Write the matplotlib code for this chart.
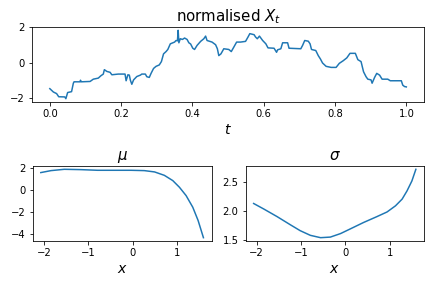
import matplotlib
matplotlib.use("Agg")
from matplotlib import pyplot as plt

# normalised path X_t
t_vals = [0.0, 0.01, 0.019, 0.025, 0.042, 0.045, 0.05, 0.061, 0.066, 0.068, 0.085, 0.086, 0.088,
          0.113, 0.122, 0.136, 0.143, 0.150, 0.153, 0.160, 0.169, 0.174, 0.192, 0.211, 0.214,
          0.219, 0.223, 0.226, 0.23, 0.235, 0.244, 0.254, 0.258, 0.268, 0.272, 0.279, 0.284,
          0.291, 0.298, 0.307, 0.313, 0.319, 0.326, 0.331, 0.338, 0.35, 0.354, 0.358, 0.36,
          0.362, 0.366, 0.372, 0.378, 0.385, 0.39, 0.395, 0.401, 0.406, 0.413, 0.423, 0.432,
          0.437, 0.441, 0.455, 0.465, 0.47, 0.474, 0.48, 0.488, 0.502, 0.509, 0.516, 0.524,
          0.535, 0.549, 0.556, 0.561, 0.573, 0.577, 0.582, 0.588, 0.597, 0.606, 0.612, 0.629,
          0.636, 0.639, 0.648, 0.653, 0.667, 0.671, 0.704, 0.709, 0.715, 0.725, 0.73, 0.734,
          0.746, 0.753, 0.759, 0.765, 0.775, 0.789, 0.803, 0.812, 0.823, 0.833, 0.842, 0.857,
          0.864, 0.873, 0.880, 0.887, 0.892, 0.901, 0.904, 0.911, 0.917, 0.925, 0.932, 0.948,
          0.955, 0.986, 0.99, 0.995, 1.0]
x_path = [-1.48, -1.67, -1.76, -1.94, -1.95, -2.05, -1.7, -1.65, -1.17, -1.09, -1.09, -1.0, -1.09,
          -1.07, -0.94, -0.88, -0.75, -0.65, -0.40, -0.50, -0.55, -0.69, -0.65, -0.65, -1.03,
          -0.69, -0.71, -1.0, -1.23, -0.98, -0.79, -0.71, -0.65, -0.65, -0.80, -0.84, -0.61,
          -0.33, -0.21, -0.13, 0.06, 0.5, 0.63, 0.75, 1.07, 1.17, 1.26, 1.24, 1.84,
          1.13, 1.36, 1.32, 1.40, 1.32, 1.13, 1.06, 0.82, 0.75, 0.98, 1.21, 1.36,
          1.51, 1.26, 1.17, 1.02, 0.79, 0.40, 0.5, 0.79, 0.75, 0.63, 0.88, 1.17,
          1.17, 1.21, 1.46, 1.65, 1.59, 1.46, 1.36, 1.51, 1.26, 1.07, 0.84, 0.82,
          0.59, 0.73, 0.79, 1.13, 1.13, 0.82, 0.79, 0.98, 1.26, 1.22, 1.07, 0.75,
          0.69, 0.40, 0.21, -0.02, -0.21, -0.27, -0.27, -0.04, 0.11, 0.27, 0.53, 0.53,
          0.17, 0.06, -0.52, -0.80, -0.94, -0.98, -1.17, -0.84, -0.61, -0.71, -0.94, -0.94,
          -1.03, -1.03, -1.28, -1.36, -1.38]

# drift mu(x)
x_mu = [-2.07, -1.84, -1.54, -1.17, -0.79, -0.41, -0.04, 0.26, 0.49, 0.71, 0.90, 1.05,
        1.20, 1.35, 1.47, 1.59]
mu = [1.58, 1.76, 1.88, 1.85, 1.79, 1.79, 1.79, 1.76, 1.64, 1.33, 0.85, 0.24,
      -0.52, -1.58, -2.79, -4.36]
mu_ticks = [-4, -2, 0, 2]

# diffusion sigma(x)
x_sig = [-2.07, -1.84, -1.54, -1.24, -1.02, -0.79, -0.56, -0.34, -0.11, 0.11, 0.41, 0.71,
         0.94, 1.13, 1.28, 1.39, 1.50, 1.59]
sigma = [2.125, 2.03, 1.90, 1.76, 1.66, 1.58, 1.54, 1.55, 1.61, 1.69, 1.80, 1.90,
         1.98, 2.085, 2.20, 2.34, 2.51, 2.71]

fig = plt.figure(figsize=(430 / 72, 286 / 72), dpi=72)

ax1 = fig.add_axes([0.0744, 0.643, 0.912, 0.263])
ax1.plot(t_vals, x_path, color="#1f77b4", linewidth=1.5)
ax1.set_title("normalised $X_t$", fontsize=15)
ax1.set_xlabel("$t$", fontsize=14)
ax1.tick_params(labelsize=10)

ax2 = fig.add_axes([0.076, 0.157, 0.416, 0.263])
ax2.plot(x_mu, mu, color="#1f77b4", linewidth=1.5)
ax2.set_yticks(mu_ticks)
ax2.set_title(r"$\mu$", fontsize=15)
ax2.set_xlabel("$x$", fontsize=14)
ax2.tick_params(labelsize=10)

ax3 = fig.add_axes([0.571, 0.157, 0.415, 0.263])
ax3.plot(x_sig, sigma, color="#1f77b4", linewidth=1.5)
ax3.set_title(r"$\sigma$", fontsize=15)
ax3.set_xlabel("$x$", fontsize=14)
ax3.tick_params(labelsize=10)

fig.savefig("out.png", dpi=72)
